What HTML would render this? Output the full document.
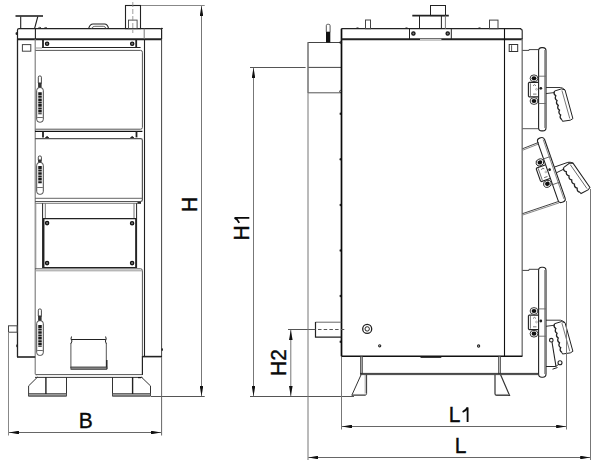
<!DOCTYPE html>
<html><head><meta charset="utf-8"><title>Boiler drawing</title>
<style>
html,body{margin:0;padding:0;background:#fff;}
svg{display:block;}
text{font-family:"Liberation Sans",sans-serif;fill:#0a0a0a;}
</style></head><body>
<svg width="613" height="460" viewBox="0 0 613 460">
<defs>
<marker id="ar" viewBox="0 0 10 3.6" refX="10" refY="1.8" markerWidth="10" markerHeight="3.6" markerUnits="userSpaceOnUse" orient="auto-start-reverse">
<path d="M0,0 L10,1.8 L0,3.6 Z" fill="#111"/>
</marker>
<g id="bolt"><circle r="1.65" fill="#777" stroke="#111" stroke-width="1.25"/></g>
<g id="hw" fill="none" stroke="#222" stroke-width="1">
  <line x1="4.6" y1="-2.1" x2="12" y2="-2.1" stroke="#666" stroke-width="0.9"/>
  <line x1="4.6" y1="25.2" x2="12" y2="25.2" stroke="#666" stroke-width="0.9"/>
  <path d="M4.1,4.1 L-4.8,4.1 L-5.6,5 L-5.6,17.7 L-4.8,18.6 L4.1,18.6" stroke-width="1.1"/>
  <line x1="-3.6" y1="5" x2="-3.6" y2="17.7" stroke="#555" stroke-width="0.8"/>
  <path d="M-1,7.5 Q0.5,5.2 2,7.5 M-1,15.8 L2.5,15.8" stroke="#555" stroke-width="0.8"/>
  <circle cx="2.5" cy="11" r="0.9" stroke="#888" stroke-width="0.6"/>
  <circle cx="6.8" cy="10" r="1.4" fill="#222" stroke="none"/>
  <ellipse cx="0" cy="0" rx="3.9" ry="3.4" fill="#fff" stroke="#222" stroke-width="0.9"/>
  <ellipse cx="0" cy="0" rx="2.4" ry="2.1" fill="#111" stroke="none"/>
  <ellipse cx="0" cy="22.7" rx="3.9" ry="3.4" fill="#fff" stroke="#222" stroke-width="0.9"/>
  <ellipse cx="0" cy="22.7" rx="2.4" ry="2.1" fill="#111" stroke="none"/>
  <path d="M12,9.2 L26.4,9.2 Q28.5,9.3 31,11.6 M12,15.3 L20.6,14.2" stroke-width="0.9"/>
  <path d="M20.6,12.7 L27.4,10.6 L31,11.6 L38.9,40.3 L36.3,41.9 L28.5,43 L27.9,41.4" stroke-width="1"/>
  <path d="M20.60,12.70 Q19.08,15.63 21.82,17.48 Q20.29,20.42 23.03,22.27 Q21.51,25.20 24.25,27.05 Q22.73,29.98 25.47,31.83 Q23.94,34.77 26.68,36.62 Q25.16,39.55 27.90,41.40" stroke-width="1.3"/>
  <line x1="27.9" y1="12.1" x2="35.8" y2="40.3" stroke="#555" stroke-width="0.8"/>
</g>
<g id="hinge"><circle r="3.3" fill="#fff" stroke="#222" stroke-width="0.9"/><circle r="2" fill="#111"/><circle r="0.6" fill="#888"/></g>
</defs>
<rect width="613" height="460" fill="#fff"/>

<!-- ================= FRONT VIEW ================= -->
<g id="front" fill="none" stroke="#222" stroke-width="1">
  <!-- flange top-left -->
  <line x1="15.5" y1="16" x2="43" y2="16" stroke-width="1.6"/>
  <line x1="20.7" y1="16.5" x2="20.7" y2="28.5" stroke-width="1.1"/>
  <line x1="37.8" y1="16.5" x2="34.6" y2="28.5" stroke-width="1.1"/>
  <!-- top panel -->
  <path d="M17.5,39 L17.5,30 Q17.5,28.6 19,28.6 L160,28.6 Q161.6,28.6 161.6,30 L161.6,39" stroke-width="1.2"/>
  <line x1="17" y1="39.3" x2="162" y2="39.3" stroke-width="2"/>
  <line x1="35.4" y1="28.6" x2="35.4" y2="39" stroke-width="1.1"/>
  <line x1="144.2" y1="28.6" x2="144.2" y2="39" stroke="#777"/>
  <ellipse cx="16.4" cy="33.5" rx="0.8" ry="1.6" fill="#222" stroke="none"/>
  <path d="M38,28.4 Q39,26.8 41,27.6 M44,28.4 Q45,27 47,27.8" stroke-width="0.8"/>
  <!-- top handle -->
  <path d="M88.6,28.6 Q90,24 93,24 L104.5,24 Q107.5,24 108.6,28.6" stroke-width="1.1"/>
  <path d="M91.5,28.6 Q92.5,26.3 94.8,26.3 L103.3,26.3 Q105.5,26.3 106,28.6" stroke="#555" stroke-width="0.9"/>
  <!-- chimney -->
  <rect x="125.5" y="5.5" width="15" height="23.1" stroke-width="1.1"/>
  <rect x="128.5" y="20.1" width="8.6" height="8.5" stroke="#444" stroke-width="0.9"/>
  <line x1="132.8" y1="2" x2="132.8" y2="33" stroke="#888" stroke-width="0.8" stroke-dasharray="5,2"/>
  <!-- left column -->
  <line x1="17.5" y1="39" x2="17.5" y2="357" stroke-width="1.3"/>
  <line x1="35.2" y1="39" x2="35.2" y2="374" stroke="#777" stroke-width="1.1"/>
  <path d="M35.2,374 Q35.2,375 36.5,375" stroke="#777"/>
  <line x1="17" y1="357" x2="35.2" y2="357" stroke-width="1.6"/>
  <rect x="22.4" y="44.6" width="8.4" height="6.6" stroke="#444"/>
  <rect x="8.5" y="325.8" width="8.7" height="6.4" stroke="#444"/>
  <ellipse cx="17" cy="345.7" rx="0.8" ry="1.5" fill="#222" stroke="none"/>
  <!-- right column -->
  <line x1="144.5" y1="39" x2="144.5" y2="356.5" stroke="#222" stroke-width="1.1"/>
  <line x1="161.6" y1="39" x2="161.6" y2="357" stroke="#444"/>
  <line x1="142.4" y1="356.6" x2="162" y2="356.6" stroke-width="1.6"/>
  <line x1="142.4" y1="356" x2="142.4" y2="375" stroke-width="1.2"/>
  <ellipse cx="162.2" cy="349.6" rx="0.8" ry="1.4" fill="#222" stroke="none"/>
  <ellipse cx="161.8" cy="28.6" rx="1.2" ry="0.8" fill="#222" stroke="none"/>
  <!-- hinge bar 1 -->
  <line x1="43" y1="39" x2="43" y2="47.5" stroke-width="1.8"/>
  <line x1="136.2" y1="39" x2="136.2" y2="47.5" stroke-width="1.8"/>
  <line x1="42" y1="47.5" x2="140.6" y2="47.5" stroke-width="1.2"/>
  <use href="#bolt" x="47.1" y="43.7"/>
  <use href="#bolt" x="132.2" y="43.8"/>
  <line x1="35.4" y1="48" x2="42" y2="48" stroke="#999"/>
  <!-- door 1 -->
  <path d="M35.4,50.4 L140.6,50.4 Q142.4,50.4 142.4,52.2 L142.4,127.5 Q142.4,129.2 140.6,129.2 L35.4,129.2" stroke="#555"/>
  <!-- hinge bar 2 -->
  <line x1="35" y1="131.4" x2="142.4" y2="131.4" stroke-width="1.4" stroke="#111"/>
  <line x1="43" y1="131.4" x2="43" y2="137.4" stroke-width="1.8"/>
  <line x1="136.5" y1="131.4" x2="136.5" y2="137.4" stroke-width="1.8"/>
  <path d="M45.3,138.2 Q47.1,134.8 48.9,138.2 Z" fill="#222" stroke="#222" stroke-width="0.8"/>
  <path d="M130.4,138.2 Q132.2,134.8 134,138.2 Z" fill="#222" stroke="#222" stroke-width="0.8"/>
  <!-- door 2 -->
  <path d="M35,138.7 L140.6,138.7 Q142.4,138.7 142.4,140.5 L142.4,199.8 Q142.4,201.5 140.6,201.5 L35,201.5" stroke="#555" stroke-width="1.2"/>
  <line x1="35" y1="198.3" x2="142.4" y2="198.3" stroke="#666"/>
  <line x1="35" y1="203.3" x2="141" y2="203.3" stroke="#777"/>
  <path d="M137.5,202.8 L141,202.8" stroke="#111" stroke-width="1.4"/>
  <line x1="35.9" y1="203.3" x2="35.9" y2="269" stroke="#999" stroke-width="0.8"/>
  <!-- opening -->
  <line x1="42.6" y1="203.3" x2="42.6" y2="268" stroke="#222"/>
  <line x1="45.3" y1="203.3" x2="45.3" y2="218.5" stroke="#777"/>
  <line x1="134" y1="203.3" x2="134" y2="218.5" stroke="#777"/>
  <line x1="136.6" y1="203.3" x2="136.6" y2="268" stroke="#222"/>
  <!-- clean-out plate -->
  <line x1="43" y1="218.7" x2="136.4" y2="218.7" stroke-width="1.3"/>
  <line x1="43" y1="267.5" x2="136.4" y2="267.5" stroke-width="1.1"/>
  <line x1="43.6" y1="218.5" x2="43.6" y2="268" stroke-width="1.7"/>
  <line x1="136" y1="218.5" x2="136" y2="268" stroke-width="1.7"/>
  <use href="#bolt" x="47.1" y="223.1"/>
  <use href="#bolt" x="132.1" y="223.3"/>
  <use href="#bolt" x="47.1" y="263.1"/>
  <use href="#bolt" x="132.1" y="263.1"/>
  <!-- door 3 -->
  <path d="M35,268.8 L140.6,268.8 Q142.4,268.8 142.4,270.6 L142.4,356" stroke="#555"/>
  <line x1="35" y1="270.8" x2="142.4" y2="270.8" stroke="#999"/>
  <!-- ash flap -->
  <line x1="71.3" y1="339.5" x2="105.8" y2="339.5" stroke="#222" stroke-width="1.1"/>
  <line x1="70.9" y1="343" x2="70.9" y2="368" stroke="#555"/>
  <line x1="106.3" y1="343" x2="106.3" y2="368" stroke="#555"/>
  <path d="M71.5,336.5 L71,339 L72,341 L71,343.5 M105.6,336.5 L106.2,339 L105.4,341 L106.2,343.5" stroke-width="1"/>
  <line x1="106.8" y1="360" x2="106.8" y2="369" stroke-width="1.4"/>
  <rect x="70.9" y="367" width="35.9" height="2.3" fill="#888" stroke="#333" stroke-width="0.8"/>
  <!-- body bottom -->
  <line x1="36" y1="374.6" x2="142.4" y2="374.6" stroke="#555"/>
  <line x1="35" y1="377.4" x2="142.4" y2="377.4" stroke="#333"/>
  <!-- feet -->
  <path d="M37.6,377 L28.6,385.9 L28.6,396 L66.5,396 L66.5,377" stroke="#333"/>
  <rect x="28.6" y="393.4" width="37.9" height="2.6" fill="#999" stroke="#444" stroke-width="0.7"/>
  <line x1="45.9" y1="377" x2="45.9" y2="394" stroke="#222" stroke-width="1.4"/>
  <path d="M112.5,377 L112.5,396 L150.5,396 L150.5,385.9 L141.3,377" stroke="#333"/>
  <rect x="112.5" y="393.4" width="38" height="2.6" fill="#999" stroke="#444" stroke-width="0.7"/>
  <line x1="132.6" y1="377" x2="132.6" y2="394" stroke="#222" stroke-width="1.4"/>
  <path d="M138,377.6 L141,377.6" stroke="#111" stroke-width="1.2"/>
</g>

<!-- handles front -->
<g id="handles" stroke="#333" stroke-width="0.9" fill="none">
  <g>
    <rect x="38.3" y="76" width="3.1" height="8" rx="1.2"/>
    <rect x="38.1" y="82.5" width="3.5" height="5.099999999999994" fill="#333" stroke="none"/>
    <rect x="36.7" y="87.6" width="6.6" height="34.60000000000001" rx="2.8"/>
    <line x1="40" y1="92.2" x2="40" y2="114.3" stroke="#1a1a1a" stroke-width="3.5" stroke-dasharray="3,0.6,2,0.6,2.6,0.6,1.6,0.6"/>
    <line x1="37.2" y1="117.5" x2="42.8" y2="117.5" stroke="#444" stroke-width="0.8"/>
  </g>
  <g>
    <rect x="38.3" y="156" width="3.1" height="5" rx="1.2"/>
    <rect x="38.1" y="159.5" width="3.5" height="3.0" fill="#333" stroke="none"/>
    <rect x="36.7" y="162.5" width="6.6" height="31.80000000000001" rx="2.8"/>
    <line x1="40" y1="166" x2="40" y2="183.5" stroke="#1a1a1a" stroke-width="3.5" stroke-dasharray="3,0.6,2,0.6,2.6,0.6,1.6,0.6"/>
    <line x1="37.2" y1="187.5" x2="42.8" y2="187.5" stroke="#444" stroke-width="0.8"/>
  </g>
  <g>
    <rect x="38.3" y="309" width="3.1" height="8" rx="1.2"/>
    <rect x="38.1" y="315.5" width="3.5" height="5.199999999999989" fill="#333" stroke="none"/>
    <rect x="36.7" y="320.7" width="6.6" height="34.69999999999999" rx="2.8"/>
    <line x1="40" y1="325" x2="40" y2="346.7" stroke="#1a1a1a" stroke-width="3.5" stroke-dasharray="3,0.6,2,0.6,2.6,0.6,1.6,0.6"/>
    <line x1="37.2" y1="350.5" x2="42.8" y2="350.5" stroke="#444" stroke-width="0.8"/>
  </g>
</g>

<!-- ================= SIDE VIEW ================= -->
<g id="side" fill="none" stroke="#222" stroke-width="1">
  <!-- rear box -->
  <line x1="308" y1="42.5" x2="341.3" y2="42.5" stroke="#444"/>
  <line x1="308" y1="67.4" x2="341.3" y2="67.4" stroke="#444"/>
  <line x1="308" y1="92.8" x2="341.3" y2="92.8" stroke="#555"/>
  <line x1="308" y1="42" x2="308" y2="93" stroke="#666"/>
  <!-- sensor -->
  <rect x="326.3" y="24.3" width="3.8" height="8.5" rx="1.4" stroke="#444" stroke-width="0.9"/>
  <rect x="326" y="31.7" width="4.3" height="10.8" fill="#111" stroke="none"/>
  <!-- body -->
  <line x1="341.5" y1="28.8" x2="341.5" y2="356.3" stroke-width="1.7" stroke="#0a0a0a"/>
  <line x1="341.3" y1="28.7" x2="521" y2="28.7" stroke-width="1.2"/>
  <line x1="341.3" y1="39.2" x2="522.4" y2="39.2" stroke-width="2"/>
  <path d="M520,28.7 Q522.2,28.7 522.2,31 L522.2,39" stroke-width="1.1"/>
  <line x1="522.2" y1="39" x2="522.2" y2="356.3" stroke="#777" stroke-width="1.4"/>
  <line x1="409.5" y1="28.8" x2="409.5" y2="39.2"/>
  <line x1="451.3" y1="28.8" x2="451.3" y2="39.2"/>
  <line x1="420" y1="39.4" x2="441.4" y2="39.4" stroke="#ccc" stroke-width="1.2"/>
  <use href="#bolt" x="413.4" y="33.5"/>
  <use href="#bolt" x="447.7" y="33.5"/>
  <line x1="504.5" y1="28.8" x2="504.5" y2="356.3" stroke="#111" stroke-width="1.1"/>
  <rect x="509.2" y="44.5" width="8.5" height="7" stroke="#333"/>
  <line x1="511.6" y1="45.2" x2="511.6" y2="51" stroke="#555"/>
  <path d="M356,28.4 Q357.5,27 359,28.4 M405,28.4 Q406.5,27 408,28.4 M478,28.4 Q479.5,27 481,28.4" stroke-width="0.8"/>
  <!-- small pipes on top -->
  <rect x="365.5" y="20" width="5" height="8.7" stroke="#444"/>
  <rect x="489.5" y="20.1" width="8.5" height="8.6" stroke="#444"/>
  <!-- chimney side -->
  <rect x="430.5" y="5.5" width="15" height="10.1"/>
  <line x1="412.3" y1="15.6" x2="448.8" y2="15.6" stroke-width="1.7"/>
  <line x1="419.5" y1="15.5" x2="419.5" y2="28.8"/>
  <line x1="441.4" y1="15.5" x2="441.4" y2="28.8"/>
  <line x1="445.4" y1="15.5" x2="445.4" y2="28.8" stroke="#777"/>
  <!-- body bottom -->
  <line x1="341.3" y1="356.3" x2="522.4" y2="356.3" stroke-width="1.6" stroke="#111"/>
  <line x1="420.5" y1="357.3" x2="441.3" y2="357.3" stroke-width="1.2"/>
  <!-- sight glass & dots -->
  <circle cx="367.2" cy="328.9" r="4.5" stroke-width="1.3"/>
  <circle cx="367.2" cy="328.9" r="2.2" stroke-width="1"/>
  <circle cx="379.7" cy="345.8" r="1.1" stroke-width="1.1"/>
  <circle cx="478.6" cy="346" r="1.1" stroke-width="1.1"/>
  <!-- pipe (rear) -->
  <line x1="315.5" y1="322.2" x2="341.3" y2="322.2" stroke="#666"/>
  <path d="M315.5,322 L315.5,337.1 L341.3,337.1" stroke-width="1.2"/>
  <!-- base -->
  <rect x="360.5" y="356.3" width="1.8" height="17.4" fill="#aaa" stroke="#333" stroke-width="0.7"/>
  <rect x="498.6" y="356.3" width="1.9" height="17.4" fill="#bbb" stroke="#333" stroke-width="0.7"/>
  <line x1="360" y1="373.4" x2="538" y2="373.4" stroke="#333"/>
  <line x1="360" y1="374.6" x2="538" y2="374.6" stroke="#444"/>
  <!-- side feet -->
  <path d="M361.1,374.7 L351.8,395.3 L365,395.3 Q366.6,395 366.6,393.5 L366.6,374.7" stroke="#333"/>
  <line x1="365.2" y1="375" x2="365.2" y2="393.6" stroke="#888" stroke-width="0.8"/>
  <line x1="353" y1="394.6" x2="365.5" y2="394.6" stroke="#999" stroke-width="1.3"/>
  <path d="M495,374.7 L495,393.8 Q495,395.3 496.5,395.3 L509.5,395.3 L500.6,374.7" stroke="#333" stroke-width="1.2"/>
  <line x1="496" y1="394.6" x2="508.5" y2="394.6" stroke="#999" stroke-width="1.3"/>
  <!-- small ticks on left edge -->
  <circle cx="340.6" cy="42.5" r="1" stroke-width="0.8"/>
  <circle cx="340.6" cy="91.4" r="1" stroke-width="0.8"/>
  <ellipse cx="340.3" cy="113.8" rx="0.7" ry="1.3" fill="#111" stroke="none"/>
  <ellipse cx="340.3" cy="159.3" rx="0.7" ry="1.3" fill="#111" stroke="none"/>
  <ellipse cx="340.3" cy="205" rx="0.7" ry="1.3" fill="#111" stroke="none"/>
  <ellipse cx="340.3" cy="250.5" rx="0.7" ry="1.3" fill="#111" stroke="none"/>
  <ellipse cx="340.3" cy="296" rx="0.7" ry="1.3" fill="#111" stroke="none"/>
  <ellipse cx="340.3" cy="341.8" rx="0.7" ry="1.3" fill="#111" stroke="none"/>
</g>

<!-- ================= SIDE DOORS ================= -->
<g id="doors" fill="none" stroke="#222" stroke-width="1">
  <!-- door 1 -->
  <path d="M522.4,50.4 L529,50.4 L529,49.6 L538.6,49.6" stroke="#444"/>
  <line x1="522.4" y1="128.7" x2="538.6" y2="128.7" stroke="#555"/>
  <rect x="538.6" y="47.6" width="7.4" height="83.3" rx="3.2" stroke-width="1.1"/>
  <line x1="544.6" y1="50" x2="544.6" y2="128" stroke="#777" stroke-width="0.8"/>
  <use href="#hw" transform="translate(534,78.3)"/>

  <!-- door 2 (open) -->
  <path d="M522.4,148.8 L538.6,142.4" stroke="#444"/>
  <path d="M522.4,150.3 L538.8,143.9" stroke="#888"/>
  <path d="M522.4,213.7 L558.7,201.4" stroke="#444"/>
  <path d="M522.4,215.1 L559,202.9" stroke="#888"/>
  <g transform="translate(539.9,162.4) rotate(-19.3)">
    <rect x="4.6" y="-23" width="7.4" height="68" rx="3.2" stroke-width="1.1"/>
    <line x1="10.6" y1="-20.5" x2="10.6" y2="42.5" stroke="#777" stroke-width="0.8"/>
    <use href="#hw"/>
  </g>

  <!-- door 3 -->
  <path d="M522.4,270.4 L529,270.4 L529,269.3 L538.6,269.3" stroke="#444"/>
  <rect x="538.6" y="267.3" width="7.4" height="110" rx="3.2" stroke-width="1.1"/>
  <line x1="544.6" y1="270" x2="544.6" y2="374" stroke="#777" stroke-width="0.8"/>
  <use href="#hw" transform="translate(534,311)"/>
  <!-- lever -->
  <circle cx="551.3" cy="340.2" r="1.8" stroke-width="1.1"/>
  <line x1="552" y1="342" x2="556" y2="366.5" stroke-width="1.1"/>
  <circle cx="560" cy="362.8" r="2" stroke-width="1.1"/>
  <path d="M558,364.5 Q557,366.5 555,366.5 L546,366.5 M552.5,369.2 L557.5,367.5" stroke-width="1"/>
</g>

<!-- ================= DIMENSIONS ================= -->
<g id="dims" fill="none" stroke="#555" stroke-width="1">
  <!-- H -->
  <line x1="141" y1="5.5" x2="204.7" y2="5.5" stroke="#888"/>
  <line x1="151" y1="396.5" x2="204.7" y2="396.5"/>
  <line x1="201.5" y1="6" x2="201.5" y2="396" stroke="#777" marker-start="url(#ar)" marker-end="url(#ar)"/>
  <!-- B -->
  <line x1="8.5" y1="332" x2="8.5" y2="435.5" stroke="#888"/>
  <line x1="161.6" y1="357" x2="161.6" y2="435.5" stroke="#666"/>
  <line x1="9" y1="432.5" x2="161" y2="432.5" stroke="#666" marker-start="url(#ar)" marker-end="url(#ar)"/>
  <!-- H1 -->
  <line x1="250" y1="67.5" x2="305.6" y2="67.5"/>
  <line x1="250" y1="396.5" x2="354" y2="396.5"/>
  <line x1="253.5" y1="68" x2="253.5" y2="396" stroke="#777" marker-start="url(#ar)" marker-end="url(#ar)"/>
  <!-- H2 -->
  <line x1="288" y1="329.5" x2="315.5" y2="329.5"/>
  <line x1="318" y1="329.5" x2="345" y2="329.5" stroke-dasharray="3.5,2.2"/>
  <line x1="290.8" y1="330" x2="290.8" y2="396" stroke="#777" marker-start="url(#ar)" marker-end="url(#ar)"/>
  <!-- L -->
  <line x1="308" y1="42.5" x2="308" y2="460" stroke="#777"/>
  <line x1="590.5" y1="189" x2="590.5" y2="460" stroke="#777"/>
  <line x1="308.4" y1="457.5" x2="590.2" y2="457.5" stroke="#666" marker-start="url(#ar)" marker-end="url(#ar)"/>
  <!-- L1 -->
  <line x1="341.5" y1="357" x2="341.5" y2="429.5" stroke="#777"/>
  <line x1="566.5" y1="201" x2="566.5" y2="429.5" stroke="#777"/>
  <line x1="342" y1="426.5" x2="566.1" y2="426.5" stroke="#666" marker-start="url(#ar)" marker-end="url(#ar)"/>
</g>

<!-- labels -->
<g font-size="21" stroke="#0a0a0a" stroke-width="0.35">
  <text transform="translate(85.8,427.6) scale(1,1.07)" text-anchor="middle">B</text>
  <text transform="translate(448.7,421.9) scale(1,1.07)">L</text>
  <text transform="translate(460.5,452.9) scale(1,1.07)" text-anchor="middle">L</text>
  <text transform="translate(197.2,204.4) rotate(-90) scale(1,1.07)" text-anchor="middle">H</text>
  <text transform="translate(249.2,240.4) rotate(-90) scale(1,1.07)">H</text>
  <text transform="translate(286.1,362.6) rotate(-90) scale(1,1.07)" text-anchor="middle">H2</text>
</g>
<g fill="none" stroke="#0a0a0a" stroke-width="1.85">
  <path d="M467.6,421.9 L467.6,407.4 Q466,410.6 462.6,412"/>
  <path d="M249.3,217.8 L234.6,217.8 Q237.8,219.4 239.2,222.8"/>
</g>
</svg>
</body></html>
